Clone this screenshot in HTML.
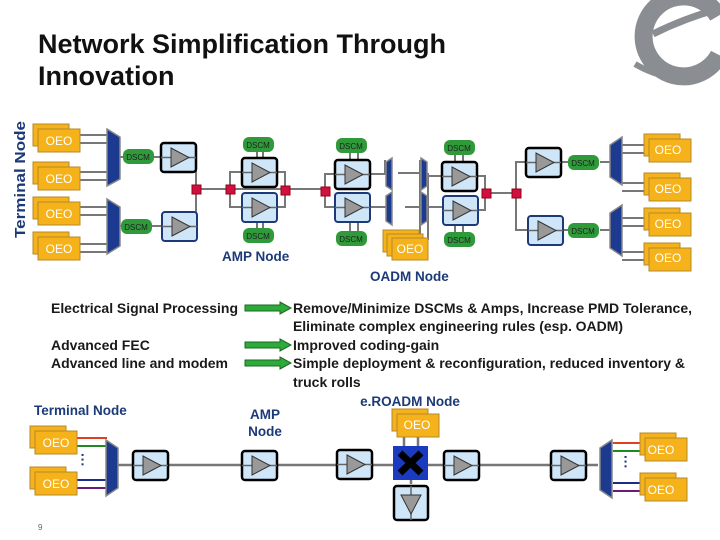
<!DOCTYPE html>
<html><head><meta charset="utf-8"><style>
html,body{margin:0;padding:0;background:#fff;}
svg{display:block;font-family:"Liberation Sans",Arial,sans-serif;}
.o{font-size:12px;fill:#fff;text-anchor:middle}
.d{font-size:8px;fill:#222;text-anchor:middle}
.t{font-size:14px;font-weight:bold;fill:#1a1a1a}
.b{font-size:13.5px;font-weight:bold;fill:#1c3a78}
</style></head><body>
<svg width="720" height="540" viewBox="0 0 720 540">
<defs>
<g id="ampk"><rect x="0" y="0" width="35" height="29" rx="3" fill="#cfe6f8" stroke="#000" stroke-width="2.5"/><line x1="0" y1="14.5" x2="35" y2="14.5" stroke="#666" stroke-width="1.5"/><polygon points="10,5 10,24 28,14.5" fill="#999" stroke="#333"/></g>
<g id="ampn"><rect x="0" y="0" width="35" height="29" rx="3" fill="#cfe6f8" stroke="#1c3a78" stroke-width="2"/><line x1="0" y1="14.5" x2="35" y2="14.5" stroke="#666" stroke-width="1.5"/><polygon points="10,5 10,24 28,14.5" fill="#999" stroke="#333"/></g>
<g id="oeo"><rect x="-5" y="-5" width="36" height="22" fill="#f5b21a" stroke="#b58a2a"/><rect x="0" y="0" width="42" height="23" fill="#f5b21a" stroke="#b58a2a"/></g>
<g id="ds"><rect x="0" y="0" width="31" height="15" rx="6" fill="#2e9a3a"/></g>
<g id="rs"><rect x="-4" y="-4" width="9" height="9" fill="#d01040" stroke="#901"/></g>
<g id="arr"><polygon points="0,-3 35,-3 35,-6 46,0 35,6 35,3 0,3" fill="#2eaa3a" stroke="#1a6a20"/></g>
</defs>

<!-- logo -->
<g fill="none" stroke="#8a8d91">
<path d="M718,16 A40,40 0 1 0 719,55" stroke-width="18"/>
<path d="M653,34 Q685,18 722,8" stroke-width="7"/>
<path d="M635,64 Q665,82 702,78" stroke-width="6"/>
</g>

<text x="38" y="53" style="font-size:27px;font-weight:bold;fill:#111">Network Simplification Through</text>
<text x="38" y="85" style="font-size:27px;font-weight:bold;fill:#111">Innovation</text>
<text class="b" x="0" y="0" transform="translate(25,238) rotate(-90)" style="font-size:15px" textLength="117" lengthAdjust="spacingAndGlyphs">Terminal Node</text>

<g stroke="#777" stroke-width="2" fill="none">
<path d="M80,135H108M80,143H108M80,172H108M80,180H108M80,207H108M80,215H108M80,244H108M80,252H108"/>
<path d="M120,157H123M152,157H161M120,226H123M152,226H162"/>
<path d="M196,157H196V189M196,226V189M196,189H325"/>
<path d="M230,189V172H241M230,189V207H241M277,172H285V189M277,207H285V189"/>
<path d="M325,191V174H335M325,191V207H335M370,174H392M370,207H392M385,175V160M420,175V160"/>
<path d="M398,173H420V240M405,207H420M428,173V240M428,207H443M428,176H443"/>
<path d="M476,176H485V193M476,210H485V193M485,193H516V162H526M516,193V230H528"/>
<path d="M560,162H568M600,162H610M562,230H568M600,230H610"/>
<path d="M622,145H650M622,153H650M622,183H650M622,191H650M622,218H650M622,226H650M622,252H650M622,260H650"/>
<path d="M257,152V158M263,152V158M257,222V228M263,222V228M350,152V160M358,152V160M350,222V232M358,222V232M455,152V163M463,152V163M455,225V233M463,225V233"/>
</g>
<g><use href="#oeo" x="38" y="129"/><use href="#oeo" x="38" y="167"/><use href="#oeo" x="38" y="202"/><use href="#oeo" x="38" y="237"/></g>
<text class="o" x="59" y="145">OEO</text><text class="o" x="59" y="183">OEO</text><text class="o" x="59" y="218">OEO</text><text class="o" x="59" y="253">OEO</text>
<g fill="#1c3a90" stroke="#888" stroke-width="1.5">
<polygon points="107,129 120,137 120,179 107,186"/><polygon points="107,199 120,207 120,246 107,254"/>
<polygon points="622,137 610,145 610,177 622,185"/><polygon points="622,205 610,213 610,248 622,256"/>
<polygon points="386,162 392,158 392,190 386,186"/><polygon points="386,196 392,192 392,225 386,221"/>
<polygon points="421,158 427,162 427,186 421,190"/><polygon points="421,192 427,196 427,221 421,225"/>
</g>
<use href="#ds" x="123" y="149"/><text class="d" x="138" y="160">DSCM</text>
<use href="#ds" x="121" y="219"/><text class="d" x="136" y="230">DSCM</text>
<use href="#ds" x="243" y="137"/><text class="d" x="258" y="148">DSCM</text>
<use href="#ds" x="243" y="228"/><text class="d" x="258" y="239">DSCM</text>
<use href="#ds" x="336" y="138"/><text class="d" x="351" y="149">DSCM</text>
<use href="#ds" x="336" y="231"/><text class="d" x="351" y="242">DSCM</text>
<use href="#ds" x="444" y="140"/><text class="d" x="459" y="151">DSCM</text>
<use href="#ds" x="444" y="232"/><text class="d" x="459" y="243">DSCM</text>
<use href="#ds" x="568" y="155"/><text class="d" x="583" y="166">DSCM</text>
<use href="#ds" x="568" y="223"/><text class="d" x="583" y="234">DSCM</text>
<use href="#ampk" x="161" y="143"/><use href="#ampn" x="162" y="212"/>
<use href="#ampk" x="242" y="158"/><use href="#ampn" x="242" y="193"/>
<use href="#ampk" x="335" y="160"/><use href="#ampn" x="335" y="193"/>
<use href="#ampk" x="442" y="162"/><use href="#ampn" x="443" y="196"/>
<use href="#ampk" x="526" y="148"/><use href="#ampn" x="528" y="216"/>
<use href="#rs" x="196" y="189"/><use href="#rs" x="230" y="189"/><use href="#rs" x="285" y="190"/><use href="#rs" x="325" y="191"/>
<use href="#rs" x="486" y="193"/><use href="#rs" x="516" y="193"/>
<rect x="383" y="230" width="36" height="22" fill="#f5b21a" stroke="#b58a2a"/>
<rect x="387" y="234" width="36" height="22" fill="#f5b21a" stroke="#b58a2a"/>
<rect x="392" y="238" width="36" height="22" fill="#f5b21a" stroke="#b58a2a"/>
<text class="o" x="410" y="253">OEO</text>
<g><use href="#oeo" x="649" y="139"/><use href="#oeo" x="649" y="178"/><use href="#oeo" x="649" y="213"/><use href="#oeo" x="649" y="248"/></g>
<text class="o" x="668" y="154">OEO</text><text class="o" x="668" y="193">OEO</text><text class="o" x="668" y="228">OEO</text><text class="o" x="668" y="262">OEO</text>
<text class="b" x="222" y="261">AMP Node</text>
<text class="b" x="370" y="281">OADM Node</text>

<text class="t" x="51" y="313" textLength="187">Electrical Signal Processing</text>
<text class="t" x="51" y="350">Advanced FEC</text>
<text class="t" x="51" y="368" textLength="177">Advanced line and modem</text>
<use href="#arr" x="245" y="308"/><use href="#arr" x="245" y="345"/><use href="#arr" x="245" y="363"/>
<text class="t" x="293" y="313" textLength="399">Remove/Minimize DSCMs &amp; Amps, Increase PMD Tolerance,</text>
<text class="t" x="293" y="331" textLength="330">Eliminate complex engineering rules (esp. OADM)</text>
<text class="t" x="293" y="350">Improved coding-gain</text>
<text class="t" x="293" y="368" textLength="392">Simple deployment &amp; reconfiguration, reduced inventory &amp;</text>
<text class="t" x="293" y="387">truck rolls</text>

<text class="b" x="34" y="415">Terminal Node</text>
<text class="b" x="265" y="419" text-anchor="middle">AMP</text>
<text class="b" x="265" y="436" text-anchor="middle">Node</text>
<text class="b" x="410" y="406" text-anchor="middle">e.ROADM Node</text>
<g stroke="#777" stroke-width="2.5" fill="none"><path d="M118,465H598M411,446V484M404,435V446M418,435V446"/></g>
<g stroke-width="2">
<line x1="77" y1="438" x2="107" y2="438" stroke="#e04020"/><line x1="77" y1="446" x2="107" y2="446" stroke="#208a20"/>
<line x1="77" y1="480" x2="107" y2="480" stroke="#1c2a8a"/><line x1="77" y1="488" x2="107" y2="488" stroke="#6a1a7a"/>
<line x1="613" y1="443" x2="645" y2="443" stroke="#e04020"/><line x1="613" y1="451" x2="645" y2="451" stroke="#208a20"/>
<line x1="613" y1="483" x2="645" y2="483" stroke="#1c2a8a"/><line x1="613" y1="491" x2="645" y2="491" stroke="#6a1a7a"/>
</g>
<text x="88" y="470" style="font-size:14px;font-weight:bold;fill:#1c3a78" text-anchor="middle" transform="translate(88,460) rotate(90) translate(-88,-460)">···</text>
<text x="629" y="470" style="font-size:14px;font-weight:bold;fill:#1c3a78" text-anchor="middle" transform="translate(629,462) rotate(90) translate(-629,-462)">···</text>
<use href="#oeo" x="35" y="431"/><use href="#oeo" x="35" y="472"/>
<text class="o" x="56" y="447">OEO</text><text class="o" x="56" y="488">OEO</text>
<use href="#oeo" x="645" y="438"/><use href="#oeo" x="645" y="478"/>
<text class="o" x="661" y="454">OEO</text><text class="o" x="661" y="494">OEO</text>
<g fill="#1c3a90" stroke="#888" stroke-width="1.5">
<polygon points="106,440 118,448 118,488 106,496"/><polygon points="612,440 600,448 600,490 612,498"/>
</g>
<use href="#ampk" x="133" y="451"/><use href="#ampk" x="242" y="451"/><use href="#ampk" x="337" y="450"/><use href="#ampk" x="444" y="451"/><use href="#ampk" x="551" y="451"/>
<use href="#oeo" x="397" y="414"/><text class="o" x="417" y="429">OEO</text>
<rect x="393" y="446" width="35" height="34" fill="#1a3ac0"/>
<path d="M400,453L421,473M421,453L400,473" stroke="#000" stroke-width="7"/>
<rect x="394" y="486" width="34" height="34" rx="3" fill="#cfe6f8" stroke="#000" stroke-width="2.5"/>
<line x1="411" y1="486" x2="411" y2="520" stroke="#666" stroke-width="1.5"/>
<polygon points="401,495 421,495 411,514" fill="#999" stroke="#333"/>
<text x="38" y="530" style="font-size:8px;fill:#666">9</text>
</svg>
</body></html>
